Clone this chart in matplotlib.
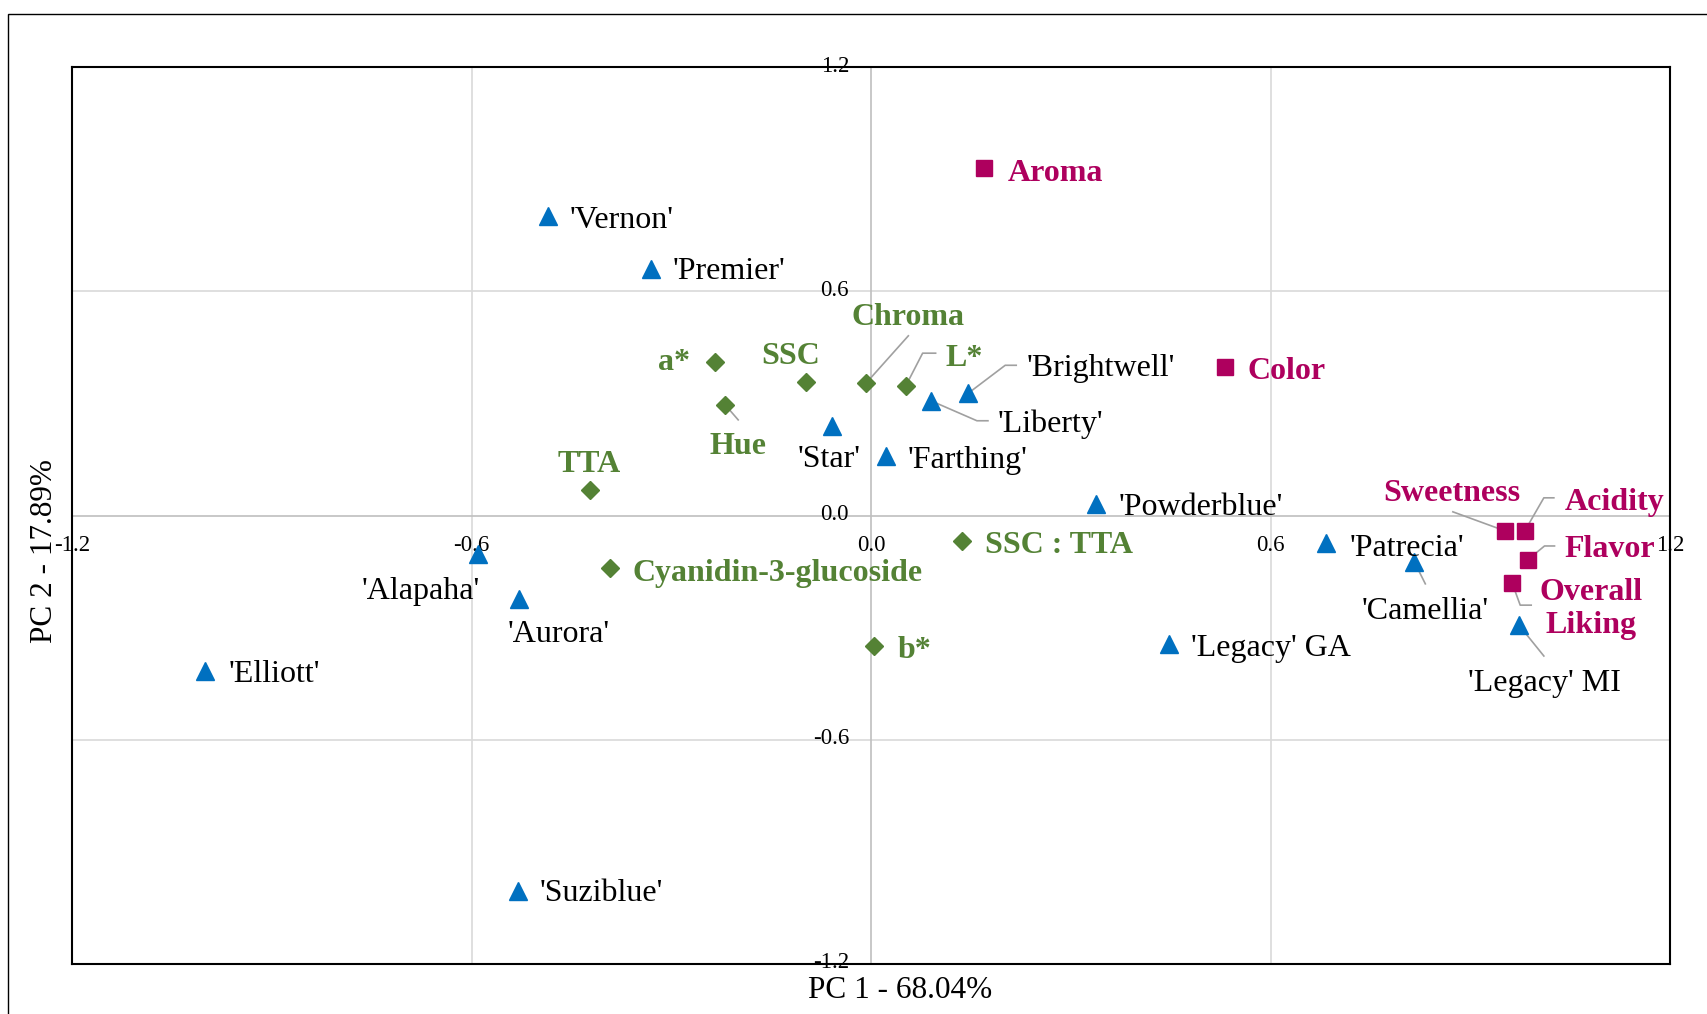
import matplotlib
matplotlib.use("Agg")
import matplotlib.pyplot as plt
from matplotlib.patches import Rectangle
from matplotlib.transforms import IdentityTransform

plt.rcParams['font.family'] = ['Liberation Serif', 'DejaVu Serif']

# PCA biplot data: cultivar scores (blue triangles)
cultivars = ["'Vernon'", "'Premier'", "'Brightwell'", "'Liberty'", "'Star'", "'Farthing'",
             "'Powderblue'", "'Patrecia'", "'Camellia'", "'Legacy' MI", "'Legacy' GA",
             "'Alapaha'", "'Aurora'", "'Elliott'", "'Suziblue'"]
cult_pc1 = [-0.485, -0.331, 0.146, 0.090, -0.059, 0.022, 0.338, 0.684, 0.816, 0.973, 0.447,
            -0.590, -0.528, -1.001, -0.530]
cult_pc2 = [0.801, 0.660, 0.327, 0.307, 0.240, 0.160, 0.031, -0.074, -0.124, -0.293, -0.345,
            -0.103, -0.224, -0.415, -1.004]

# physicochemical attributes (green diamonds)
attrs = ["a*", "SSC", "Chroma", "L*", "Hue", "TTA", "SSC : TTA", "Cyanidin-3-glucoside", "b*"]
attr_pc1 = [-0.235, -0.098, -0.007, 0.052, -0.219, -0.422, 0.137, -0.392, 0.004]
attr_pc2 = [0.410, 0.358, 0.355, 0.346, 0.296, 0.068, -0.067, -0.141, -0.349]

# sensory attributes (magenta squares)
sensory = ["Aroma", "Color", "Sweetness", "Acidity", "Flavor", "Overall\nLiking"]
sens_pc1 = [0.169, 0.531, 0.952, 0.982, 0.986, 0.963]
sens_pc2 = [0.929, 0.396, -0.041, -0.041, -0.119, -0.181]

ticks = [-1.2, -0.6, 0.0, 0.6, 1.2]

# label placement: pixel offset (x right, y down), alignment, leader line knots
cult_lab = [(22, 1, 'left', None), (22, 0, 'left', None),
            (58, -28, 'left', [(37, -28), (48, -28)]),
            (67, 20, 'left', [(46, 20), (57, 20)]),
            (-3, 31, 'center', None), (22, 2, 'left', None), (23, 1, 'left', None),
            (23, 2, 'left', None), (11, 47, 'center', [(11, 22)]),
            (26, 55, 'center', [(25, 31)]), (22, 1, 'left', None),
            (-57, 35, 'center', None), (-12, 32, 'left', None),
            (24, 1, 'left', None), (22, 0, 'left', None)]
attr_lab = [(-25, -3, 'right', None), (-15, -28, 'center', None),
            (42, -68, 'center', [(42, -47)]),
            (40, -31, 'left', [(17, -33), (30, -33)]),
            (13, 39, 'center', [(13, 15)]), (-1, -29, 'center', None),
            (23, 2, 'left', None), (23, 2, 'left', None), (24, 2, 'left', None)]
sens_lab = [(24, 2, 'left', None), (23, 1, 'left', None),
            (-53, -40, 'center', [(-52, -19)]),
            (40, -31, 'left', [(19, -33), (29, -33)]),
            (37, -13, 'left', [(17, -14), (27, -14)]),
            (79, 23, 'center', [(8, 22), (19, 22)])]

BLUE = '#0070C0'
GREEN = '#548235'
MAGENTA = '#AE005E'
W, H = 1707, 1014

fig = plt.figure(figsize=(W / 100, H / 100), dpi=100)
ax = fig.add_axes([72 / W, 50 / H, 1598 / W, 897 / H])
ax.set_xlim(-1.2, 1.2)
ax.set_ylim(-1.2, 1.2)
ax.set_xticks([])
ax.set_yticks([])
for s in ax.spines.values():
    s.set_linewidth(1.5)
    s.set_color('black')

for v in (-0.6, 0.6):
    ax.axvline(v, color='#D9D9D9', lw=1.2, zorder=0)
    ax.axhline(v, color='#D9D9D9', lw=1.2, zorder=0)
ax.axvline(0, color='#BFBFBF', lw=1.2, zorder=0)
ax.axhline(0, color='#BFBFBF', lw=1.2, zorder=0)

# tick labels sit on the zero axes, excel style
for t in ticks:
    ax.annotate(f'{t:.1f}', xy=(0, t), xytext=(-22, 1), textcoords='offset pixels',
                ha='right', va='center', fontsize=16.5, annotation_clip=False)
    ax.annotate(f'{t:.1f}', xy=(t, 0), xytext=(0, -30), textcoords='offset pixels',
                ha='center', va='center', fontsize=16.5, annotation_clip=False)

ax.plot(cult_pc1, cult_pc2, ls='none', marker='^', ms=13, color=BLUE, zorder=4)
ax.plot(attr_pc1, attr_pc2, ls='none', marker='D', ms=9, color=GREEN, zorder=4)
ax.plot(sens_pc1, sens_pc2, ls='none', marker='s', ms=12, color=MAGENTA, zorder=4)


def put_labels(names, xs, ys, specs, color, weight, size):
    for n, x, y, (dx, dy, ha, knots) in zip(names, xs, ys, specs):
        ax.annotate(n, xy=(x, y), xytext=(dx, -dy - 3), textcoords='offset pixels',
                    ha=ha, va='center', ma='center', fontsize=size, color=color,
                    fontweight=weight, annotation_clip=False, zorder=5)
        if knots:
            px, py = ax.transData.transform((x, y))
            lx = [px] + [px + k[0] for k in knots]
            ly = [py] + [py - k[1] for k in knots]
            ax.plot(lx, ly, transform=IdentityTransform(), color='#A0A0A0',
                    lw=1.2, zorder=3)


put_labels(cultivars, cult_pc1, cult_pc2, cult_lab, 'black', 'normal', 23)
put_labels(attrs, attr_pc1, attr_pc2, attr_lab, GREEN, 'bold', 23)
put_labels(sensory, sens_pc1, sens_pc2, sens_lab, MAGENTA, 'bold', 23)

fig.text(900 / W, 1 - 990 / H, 'PC 1 - 68.04%', ha='center', va='center', fontsize=22.5)
fig.text(45 / W, 1 - 551 / H, 'PC 2 - 17.89%', ha='center', va='center',
         rotation=90, fontsize=22.5)

# outer border of the original figure
fig.add_artist(Rectangle((8.4 / W, -0.1), 1.2, 1.1 - 14 / H, transform=fig.transFigure,
                         fill=False, lw=1.0, ec='black'))

fig.savefig('out.png', dpi=100)
